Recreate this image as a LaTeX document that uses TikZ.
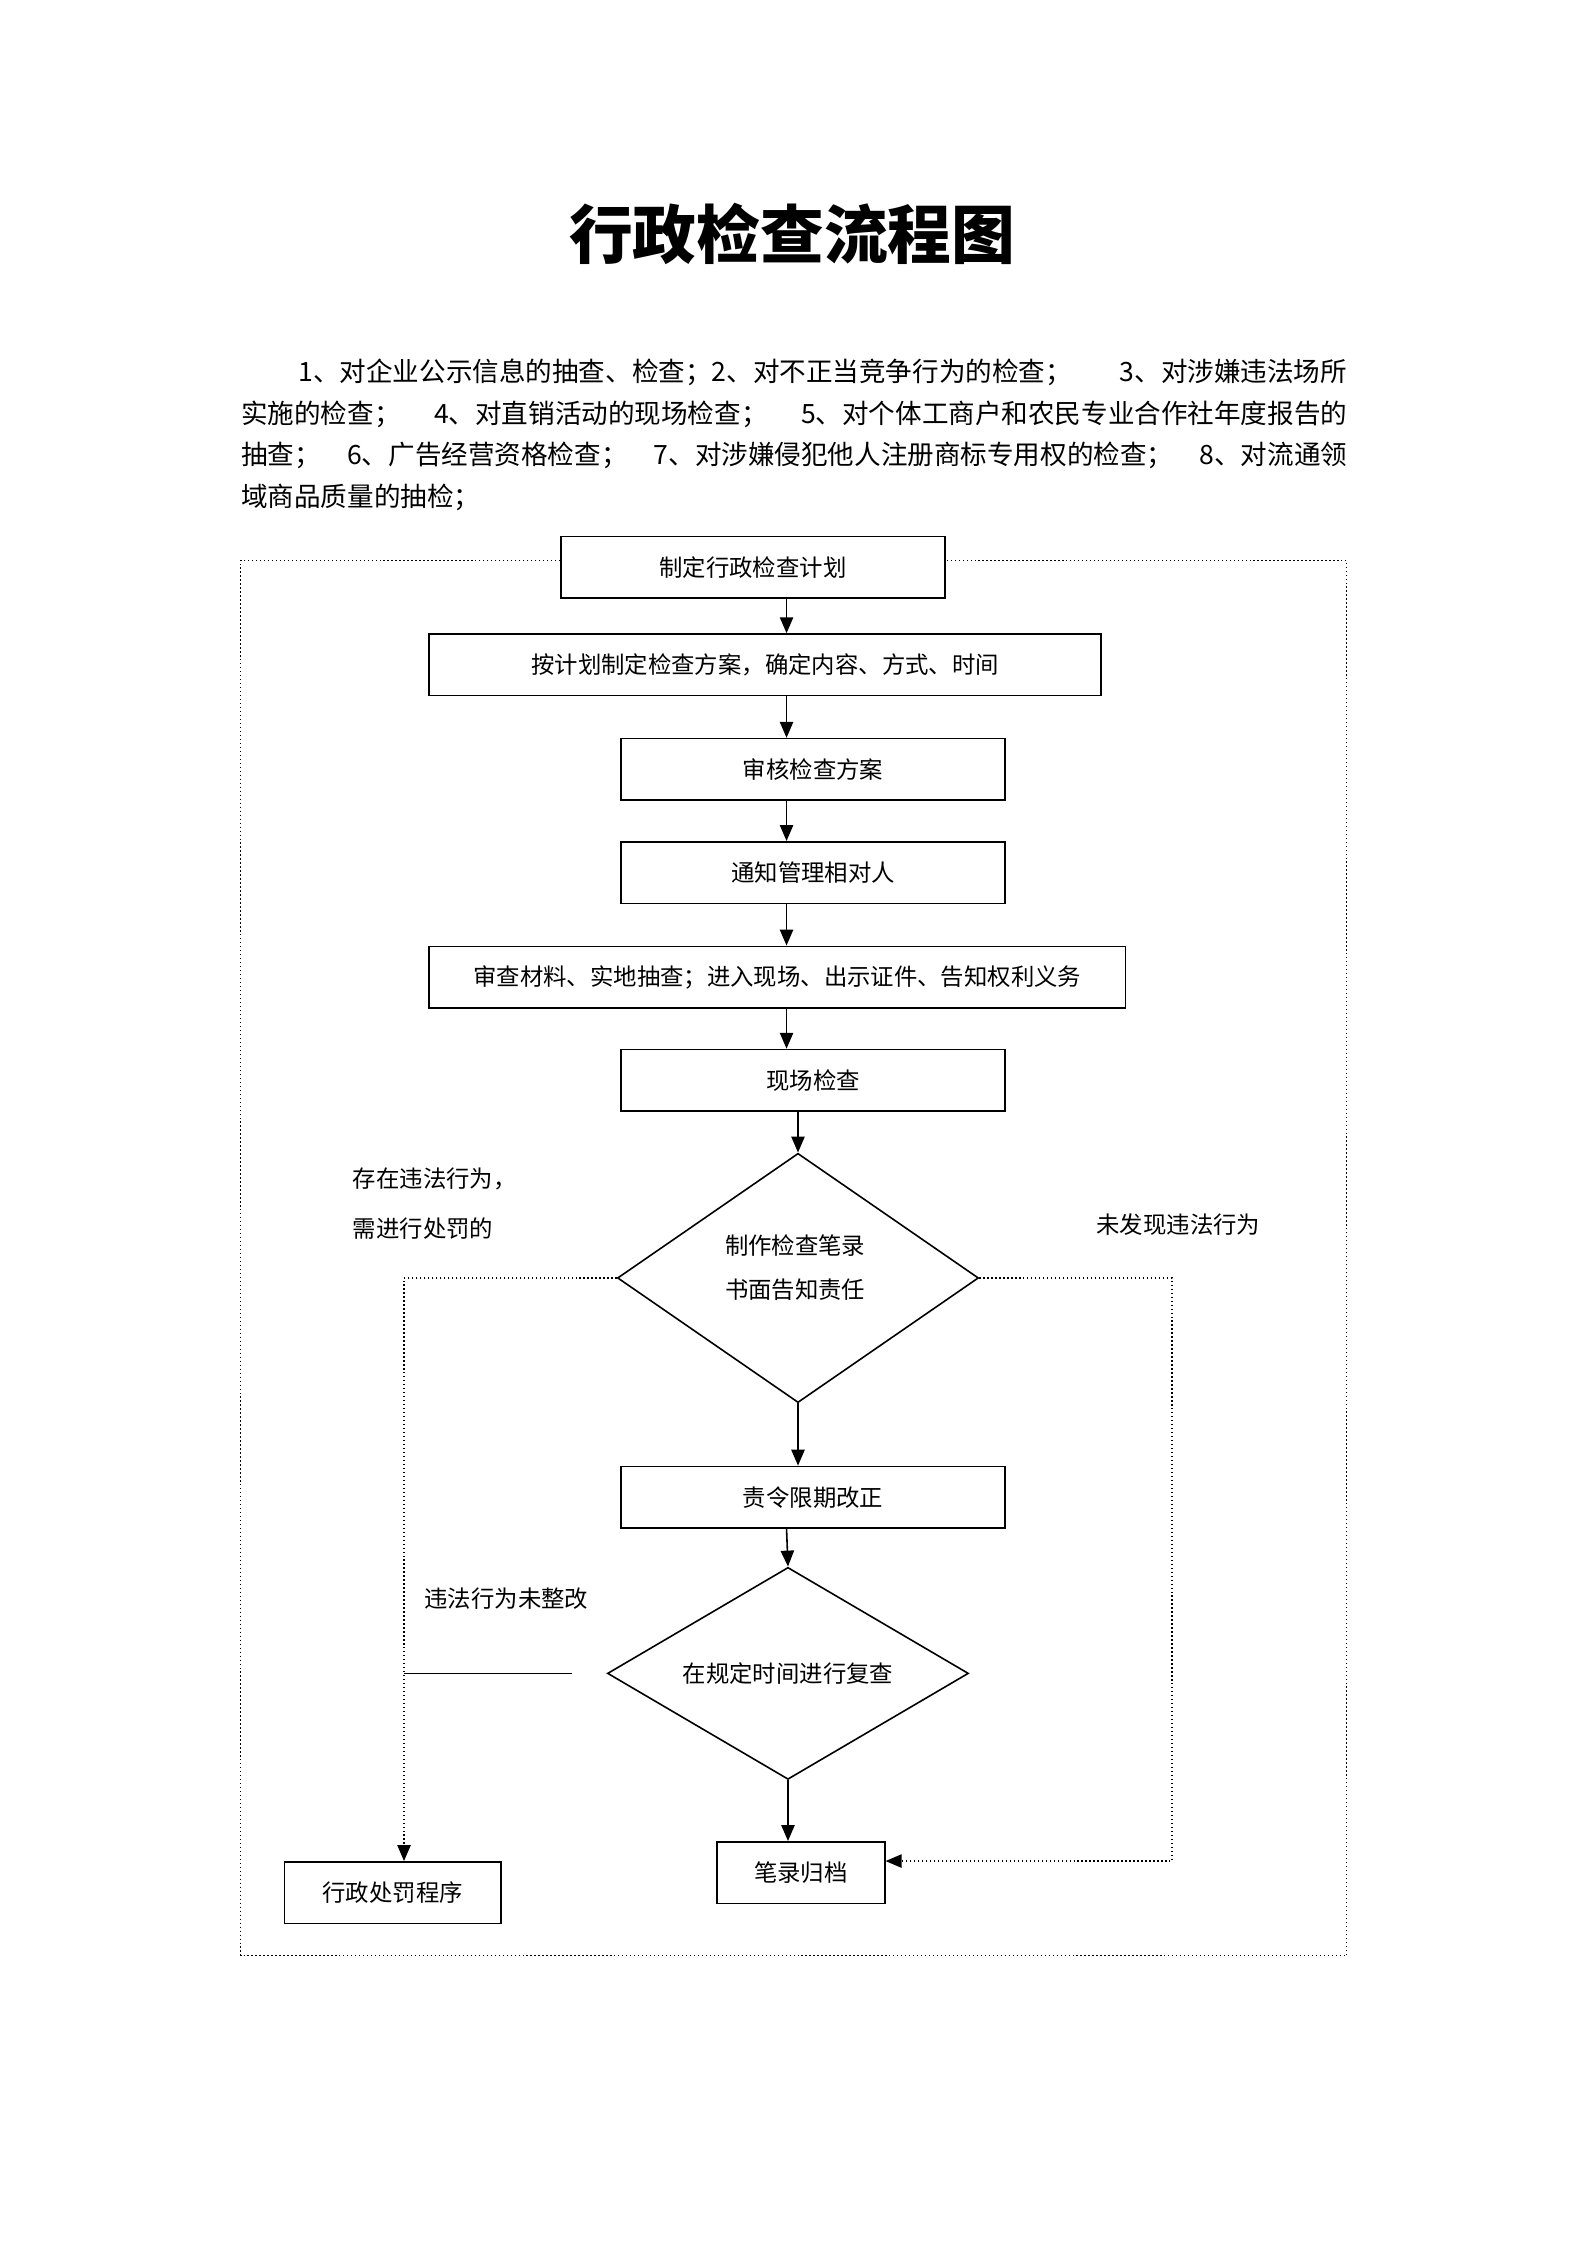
\documentclass[tikz,border=0pt]{standalone}
\usepackage{fontspec}
\setmainfont{Noto Sans CJK SC}
\usetikzlibrary{arrows.meta,positioning,shapes.geometric,calc}
\XeTeXlinebreaklocale "zh"
\XeTeXlinebreakskip=0pt plus 3pt
\newcommand{\un}{0.01895cm}

\begin{document}
\begin{tikzpicture}[x=\un, y=-\un, every node/.style={font=\fontsize{8.8pt}{10pt}\selectfont, inner sep=0pt},
  stepbox/.style={draw, line width=0.6pt, anchor=north west, align=center},
  decision/.style={draw, line width=0.6pt, diamond, aspect=1.45, align=center},
  flow/.style={-{Triangle[length=6pt,width=5pt]}, line width=0.6pt},
  loop/.style={densely dotted, line width=0.5pt},
  para/.style={anchor=west, font=\fontsize{10pt}{12pt}\selectfont}]

\useasboundingbox (0,0) rectangle (1108,1567);

% Title and scope text
\node[font=\fontsize{24pt}{28pt}\selectfont\bfseries] (title) at (553,163) {行政检查流程图};
\node[para] (line1) at (208,260) {\makebox[13.87cm][s]{1、对企业公示信息的抽查、检查；2、对不正当竞争行为的检查；\ 3、对涉嫌违法场所}};
\node[para] (line2) at (168,289) {\makebox[14.63cm][s]{实施的检查；\ 4、对直销活动的现场检查；\ 5、对个体工商户和农民专业合作社年度报告的}};
\node[para] (line3) at (168,318) {\makebox[14.63cm][s]{抽查；\ 6、广告经营资格检查；\ 7、对涉嫌侵犯他人注册商标专用权的检查；\ 8、对流通领}};
\node[para] (line4) at (168,347) {域商品质量的抽检；};

% Steps
\node[stepbox, minimum width=268*\un, minimum height=43*\un] (plan) at (391,374) {制定行政检查计划};
\node[stepbox, minimum width=469*\un, minimum height=43*\un] (scheme) at (299,442) {按计划制定检查方案，确定内容、方式、时间};
\node[stepbox, minimum width=268*\un, minimum height=43*\un] (review) at (433,515) {审核检查方案};
\node[stepbox, minimum width=268*\un, minimum height=43*\un] (notify) at (433,587) {通知管理相对人};
\node[stepbox, minimum width=486*\un, minimum height=43*\un] (enter) at (299,660) {审查材料、实地抽查；进入现场、出示证件、告知权利义务};
\node[stepbox, minimum width=268*\un, minimum height=43*\un] (site) at (433,732) {现场检查};
\node[decision, minimum width=252*\un, minimum height=174*\un] (record) at (557,892) {};
\node (rtext) at (555,887) {\begin{tabular}{c}制作检查笔录\\[6pt]书面告知责任\end{tabular}};
\node[stepbox, minimum width=268*\un, minimum height=43*\un] (correct) at (433,1023) {责令限期改正};
\node[decision, minimum width=252*\un, minimum height=148*\un] (recheck) at (550,1168) {在规定时间进行复查};
\node[stepbox, minimum width=117*\un, minimum height=43*\un] (archive) at (500,1285) {笔录归档};
\node[stepbox, minimum width=151*\un, minimum height=43*\un] (punish) at (198,1299) {行政处罚程序};

% Branch labels
\node[anchor=west, align=left] (lbyes) at (246,840) {存在违法行为，\\[9pt]需进行处罚的};
\node[anchor=west] (lbno) at (765,855) {未发现违法行为};
\node[anchor=west] (lbnot) at (296,1116) {违法行为未整改};

% Outer dotted frame
\draw[loop] (plan.west |- 0,391) -- (168,391) -- (168,1365) -- (940,1365) -- (940,391) -- (plan.east |- 0,391);

% Main flow
\draw[flow] (plan.south -| 549,0) -- (scheme.north -| 549,0);
\draw[flow] (scheme.south -| 549,0) -- (review.north -| 549,0);
\draw[flow] (review.south -| 549,0) -- (notify.north -| 549,0);
\draw[flow] (notify.south -| 549,0) -- (enter.north -| 549,0);
\draw[flow] (enter.south -| 549,0) -- (site.north -| 549,0);
\draw[flow] (site.south -| 557,0) -- (record.north);
\draw[flow] (record.south) -- (correct.north -| 557,0);
\draw[flow] (correct.south -| 549,0) -- (recheck.north);
\draw[flow] (recheck.south) -- (archive.north -| 550,0);

% Side branches
\coordinate (lt) at (282,892);
\coordinate (rt) at (818,892);
\coordinate (rb) at (818,1299);
\coordinate (mid) at (399,1168);
\draw[loop, -{Triangle[length=6pt,width=5pt]}] (record.west) -- (lt) -- (punish.north -| lt);
\draw[loop, -{Triangle[length=6pt,width=5pt]}] (record.east) -- (rt) -- (rb) -- (archive.east |- rb);
\draw[line width=0.6pt] (lt |- mid) -- (mid);

\end{tikzpicture}
\end{document}
